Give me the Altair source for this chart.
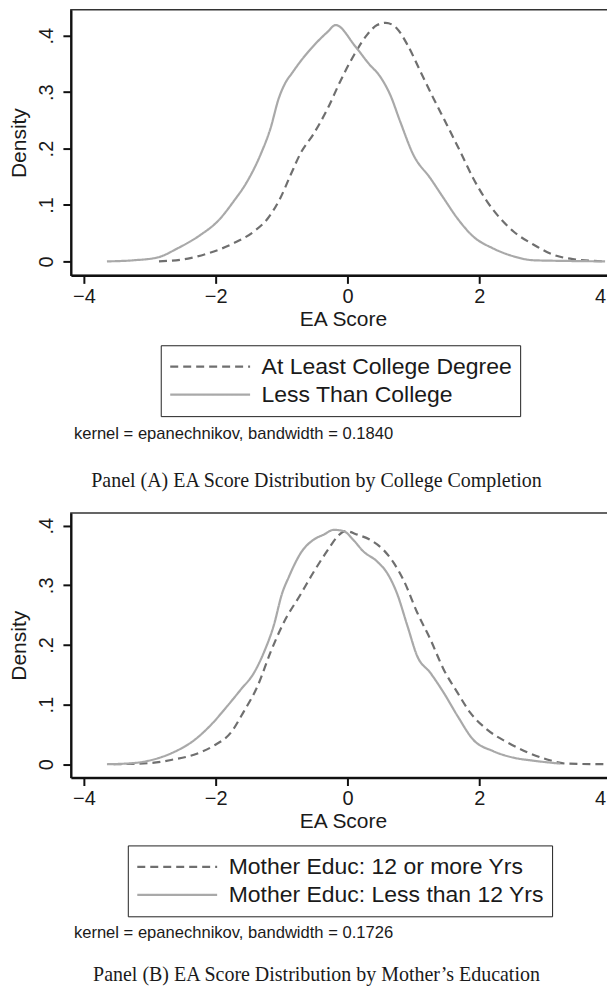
import altair as alt
import pandas as pd

# ---------------- Panel A data ----------------
a_labels = ["At Least College Degree", "Less Than College"]
a_dash_x = [-2.86, -2.42, -2.12, -1.73, -1.42, -1.21, -1.02, -0.86, -0.71, -0.52, -0.30, -0.11,
            0.10, 0.30, 0.45, 0.58, 0.75, 0.91, 1.11, 1.31, 1.51, 1.71, 1.91, 2.12, 2.32, 2.52,
            2.82, 3.12, 3.42, 3.91]
a_dash_y = [0.0, 0.005, 0.014, 0.032, 0.053, 0.076, 0.112, 0.154, 0.192, 0.225, 0.271, 0.319,
            0.366, 0.402, 0.419, 0.423, 0.413, 0.384, 0.336, 0.288, 0.242, 0.195, 0.147, 0.106,
            0.076, 0.053, 0.030, 0.012, 0.004, 0.0]
a_solid_x = [-3.65, -3.24, -2.88, -2.58, -2.23, -1.97, -1.73, -1.52, -1.32, -1.17, -1.04, -0.94,
             -0.84, -0.71, -0.46, -0.30, -0.18, 0.12, 0.32, 0.50, 0.65, 0.80, 1.00, 1.26, 1.46,
             1.67, 1.91, 2.21, 2.52, 2.82, 3.20, 3.91]
a_solid_y = [0.0, 0.002, 0.007, 0.023, 0.047, 0.071, 0.106, 0.142, 0.189, 0.235, 0.290, 0.317,
             0.334, 0.355, 0.389, 0.407, 0.419, 0.381, 0.351, 0.327, 0.295, 0.248, 0.189, 0.147,
             0.112, 0.076, 0.044, 0.023, 0.009, 0.002, 0.001, 0.0]

# ---------------- Panel B data ----------------
b_labels = ["Mother Educ: 12 or more Yrs", "Mother Educ: Less than 12 Yrs"]
b_dash_x = [-3.55, -2.98, -2.64, -2.33, -2.03, -1.77, -1.58, -1.36, -1.17, -0.97, -0.71, -0.52,
            -0.30, -0.15, -0.03, 0.15, 0.35, 0.55, 0.70, 0.85, 1.06, 1.26, 1.46, 1.67, 1.86,
            2.12, 2.42, 2.73, 3.03, 3.33, 3.91]
b_dash_y = [0.0, 0.002, 0.008, 0.016, 0.031, 0.053, 0.087, 0.132, 0.187, 0.237, 0.285, 0.321,
            0.359, 0.382, 0.391, 0.385, 0.376, 0.359, 0.338, 0.309, 0.254, 0.209, 0.159, 0.120,
            0.087, 0.058, 0.037, 0.020, 0.008, 0.001, 0.0]
b_solid_x = [-3.65, -3.24, -2.94, -2.64, -2.33, -2.08, -1.82, -1.62, -1.42, -1.27, -1.12, -0.99,
             -0.89, -0.79, -0.71, -0.52, -0.36, -0.21, -0.06, 0.09, 0.24, 0.45, 0.60, 0.75, 0.91,
             1.06, 1.26, 1.46, 1.67, 1.91, 2.21, 2.52, 2.82, 3.23]
b_solid_y = [0.0, 0.002, 0.008, 0.020, 0.040, 0.065, 0.098, 0.125, 0.153, 0.187, 0.232, 0.287,
             0.314, 0.338, 0.354, 0.376, 0.385, 0.393, 0.391, 0.376, 0.357, 0.340, 0.321, 0.287,
             0.232, 0.181, 0.153, 0.120, 0.081, 0.041, 0.022, 0.011, 0.006, 0.001]

x_ticks = [-4, -2, 0, 2, 4]
y_ticks = [0, 0.1, 0.2, 0.3, 0.4]
notes = ["kernel = epanechnikov, bandwidth = 0.1840", "kernel = epanechnikov, bandwidth = 0.1726"]
captions = ["Panel (A) EA Score Distribution by College Completion",
            "Panel (B) EA Score Distribution by Mother\u2019s Education"]

SANS = "Liberation Sans"
SERIF = "Liberation Serif"
DARK = "#6f6f6f"
LIGHT = "#a9a9a9"
XDOM = [-4.197, 4.06]
W = 545


def panel(labels, dx, dy, sx, sy, ydom, height, note, caption, legx, legy, cliph, note_y, cap_y):
    df = pd.concat([
        pd.DataFrame({"x": dx, "y": dy, "g": labels[0]}),
        pd.DataFrame({"x": sx, "y": sy, "g": labels[1]}),
    ])
    leg = alt.Legend(
        orient="none", legendX=legx, legendY=legy, direction="vertical", title=None,
        symbolType="stroke", symbolSize=6400, symbolStrokeWidth=2.2,
        labelFont=SANS, labelFontSize=23, labelColor="#1a1a1a", labelOffset=10,
        labelLimit=500, padding=8, strokeColor="#222222", fillColor="white",
        clipHeight=cliph, rowPadding=1,
    )
    lines = alt.Chart(df).mark_line(strokeWidth=2.2, interpolate="monotone").encode(
        x=alt.X("x:Q", scale=alt.Scale(domain=XDOM, nice=False, zero=False),
                axis=alt.Axis(values=x_ticks, title="EA Score", labelFlush=False,
                              labelOffset=alt.ExprRef("datum.value == 4 ? -11 : 0"),
                              tickSize=8, labelPadding=3, titlePadding=2,
                              labelFontSize=20, titleFontSize=21)),
        y=alt.Y("y:Q", scale=alt.Scale(domain=ydom, nice=False, zero=False),
                axis=alt.Axis(values=y_ticks, title="Density",
                              labelExpr="datum.value == 0 ? '0' : replace(format(datum.value, '.1f'), '0.', '.')",
                              labelAngle=270, labelAlign="center", labelBaseline="alphabetic",
                              labelPadding=10, tickSize=8, titlePadding=7,
                              labelFontSize=20, titleFontSize=21)),
        color=alt.Color("g:N", scale=alt.Scale(domain=labels, range=[DARK, LIGHT]), legend=leg),
        strokeDash=alt.StrokeDash("g:N", scale=alt.Scale(domain=labels, range=[[8, 5], [1, 0]]),
                                  legend=leg),
    )
    note_t = alt.Chart(pd.DataFrame({"t": [note]})).mark_text(
        align="left", baseline="middle", font=SANS, fontSize=16.6, color="#1a1a1a"
    ).encode(text="t:N", x=alt.value(3), y=alt.value(note_y))
    cap_t = alt.Chart(pd.DataFrame({"t": [caption]})).mark_text(
        align="center", baseline="middle", font=SERIF, fontSize=20, color="#1a1a1a"
    ).encode(text="t:N", x=alt.value(246), y=alt.value(cap_y))
    return alt.layer(lines, note_t, cap_t).properties(width=W, height=height)


pA = panel(a_labels, a_dash_x, a_dash_y, a_solid_x, a_solid_y, [-0.0248, 0.446], 266,
           notes[0], captions[0], 90, 336, 27, 425, 472)
pB = panel(b_labels, b_dash_x, b_dash_y, b_solid_x, b_solid_y, [-0.0223, 0.4213], 265,
           notes[1], captions[1], 57, 333, 27, 421, 463)

chart = alt.vconcat(pA, pB, spacing=20).resolve_scale(
    color="independent", strokeDash="independent"
).configure(
    padding={"left": 0, "top": 0, "right": -9, "bottom": -1},
    background="white",
).configure_view(
    stroke="#333333", strokeWidth=1.5
).configure_axis(
    grid=False, domainColor="#111111", domainWidth=2.2, tickColor="#111111", tickWidth=2,
    labelColor="#1a1a1a", titleColor="#1a1a1a", labelFont=SANS, titleFont=SANS,
    titleFontWeight="normal",
)

chart.save("out.html", embed_options={"renderer": "svg", "actions": False})
